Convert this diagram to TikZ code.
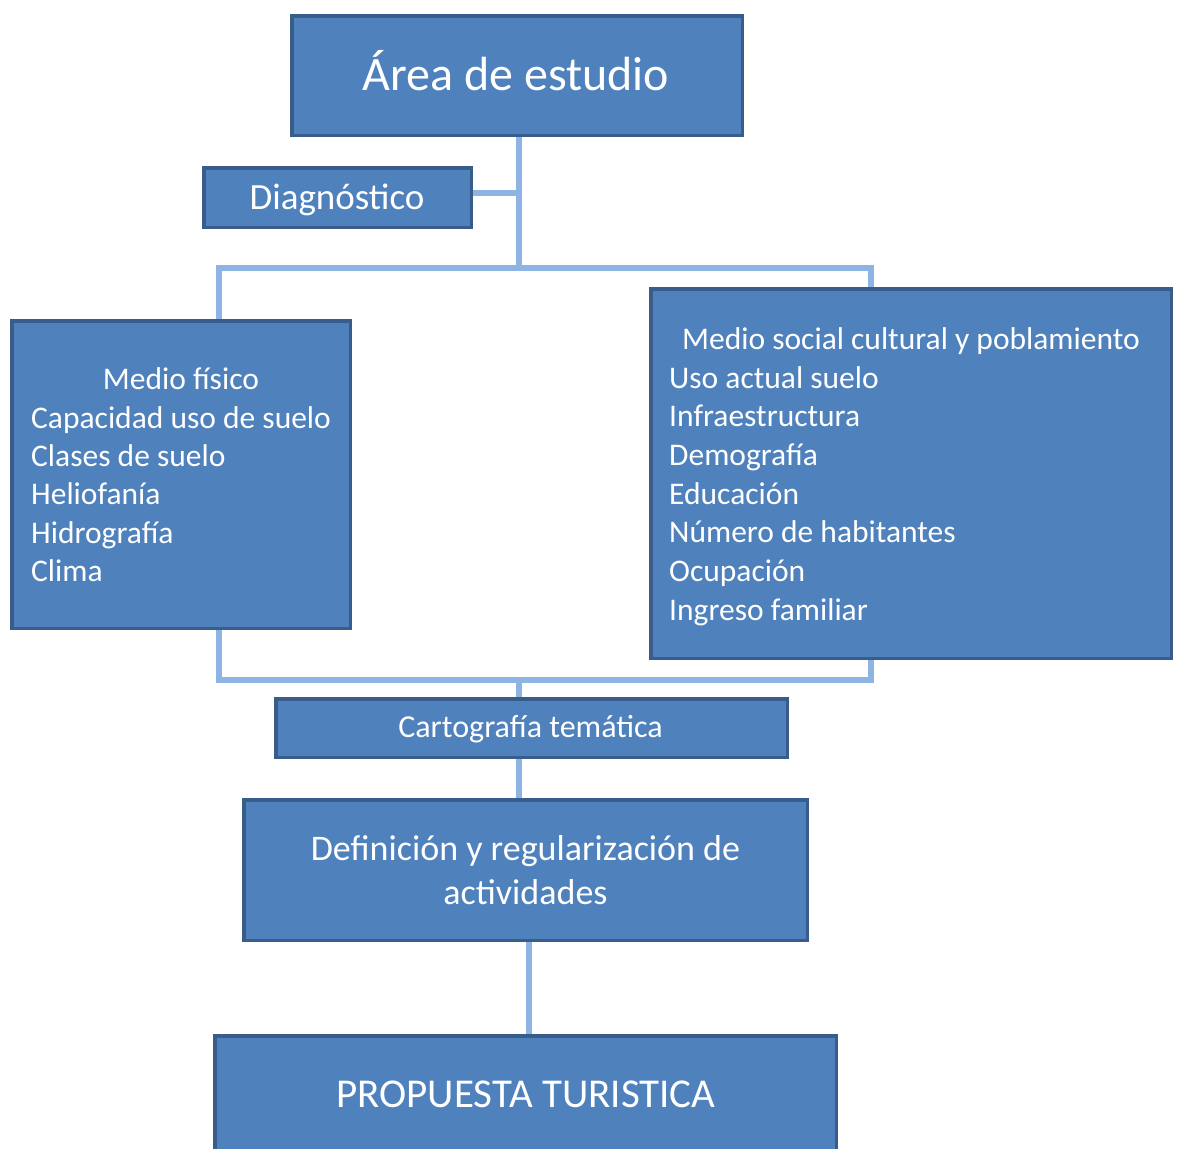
\documentclass[tikz,border=0pt]{standalone}
\usepackage{fontspec}
\setmainfont{Carlito}
\definecolor{boxfill}{HTML}{4F81BD}
\definecolor{boxline}{HTML}{385D8A}
\definecolor{connline}{HTML}{8EB4E3}
\pgfdeclarelayer{bg}
\pgfsetlayers{bg,main}
\begin{document}
\begin{tikzpicture}[x=1pt,y=-1pt,
  box/.style={draw=boxline, line width=3.5pt, fill=boxfill, rectangle, inner sep=0pt},
  conn/.style={draw=connline, line width=6pt, line join=miter},
  txt/.style={text=white, inner sep=0pt},
  body/.style={txt, font=\fontsize{31.5}{38}\selectfont}]
\useasboundingbox (0,0) rectangle (1179,1149);
% junction coordinates
\coordinate (j1) at (519,268);
\coordinate (tl) at (219,268);
\coordinate (tr) at (871,268);
\coordinate (bl) at (219,680);
\coordinate (bm) at (519,680);
\coordinate (br) at (871,680);
\coordinate (jd) at (519,193);
\coordinate (jp) at (529,942);
% boxes
\node[box, minimum width=450.5pt, minimum height=119.5pt] (area) at (517,75.5) {};
\node[box, minimum width=267.5pt, minimum height=59.5pt] (diag) at (337.5,197.5) {};
\node[box, minimum width=338.5pt, minimum height=307.5pt] (fis) at (181,474.5) {};
\node[box, minimum width=520.5pt, minimum height=369.5pt] (soc) at (911,473.5) {};
\node[box, minimum width=511.5pt, minimum height=58.5pt] (carto) at (531.5,728) {};
\node[box, minimum width=563.5pt, minimum height=140.5pt] (defi) at (525.5,870) {};
\node[box, minimum width=621.5pt, minimum height=150pt] (prop) at (525.5,1110.75) {};
% connectors
\begin{pgfonlayer}{bg}
\fill[white] (0,0) rectangle (1179,1149);
\draw[conn] (area.south -| j1) -- (j1);
\draw[conn] (diag.east |- jd) -- (jd);
\draw[conn] (fis.north -| tl) -- (tl) -- (tr) -- (soc.north -| tr);
\draw[conn] (fis.south -| bl) -- (bl) -- (br) -- (soc.south -| br);
\draw[conn] (bm) -- (carto.north -| bm);
\draw[conn] (carto.south -| j1) -- (defi.north -| j1);
\draw[conn] (defi.south -| jp) -- (prop.north -| jp);
\end{pgfonlayer}
% texts
\node[txt, anchor=base, font=\fontsize{48}{52}\selectfont] (areaT) at (516,90) {Área de estudio};
\node[txt, anchor=base, font=\fontsize{37}{40}\selectfont] (diagT) at (337,209) {Diagnóstico};
\node[body, anchor=base] (f1) at (181,389) {Medio físico};
\node[body, anchor=base west] (f2) at (31,428) {Capacidad uso de suelo};
\node[body, anchor=base west] (f3) at (31,466) {Clases de suelo};
\node[body, anchor=base west] (f4) at (31,504) {Heliofanía};
\node[body, anchor=base west] (f5) at (31,543) {Hidrografía};
\node[body, anchor=base west] (f6) at (31,581) {Clima};
\node[body, anchor=base] (s1) at (911,349) {Medio social cultural y poblamiento};
\node[body, anchor=base west] (s2) at (669,388) {Uso actual suelo};
\node[body, anchor=base west] (s3) at (669,426) {Infraestructura};
\node[body, anchor=base west] (s4) at (669,465) {Demografía};
\node[body, anchor=base west] (s5) at (669,504) {Educación};
\node[body, anchor=base west] (s6) at (669,542) {Número de habitantes};
\node[body, anchor=base west] (s7) at (669,581) {Ocupación};
\node[body, anchor=base west] (s8) at (669,620) {Ingreso familiar};
\node[txt, anchor=base, font=\fontsize{32}{34}\selectfont] (cartoT) at (530.5,737) {Cartografía temática};
\node[txt, anchor=base, font=\fontsize{36}{40}\selectfont] (defiT1) at (525.5,860) {Definición y regularización de};
\node[txt, anchor=base, font=\fontsize{36}{40}\selectfont] (defiT2) at (525.5,904) {actividades};
\node[txt, anchor=base, font=\fontsize{41}{45}\selectfont] (propT) at (526,1107) {PROPUESTA TURISTICA};
\end{tikzpicture}
\end{document}
